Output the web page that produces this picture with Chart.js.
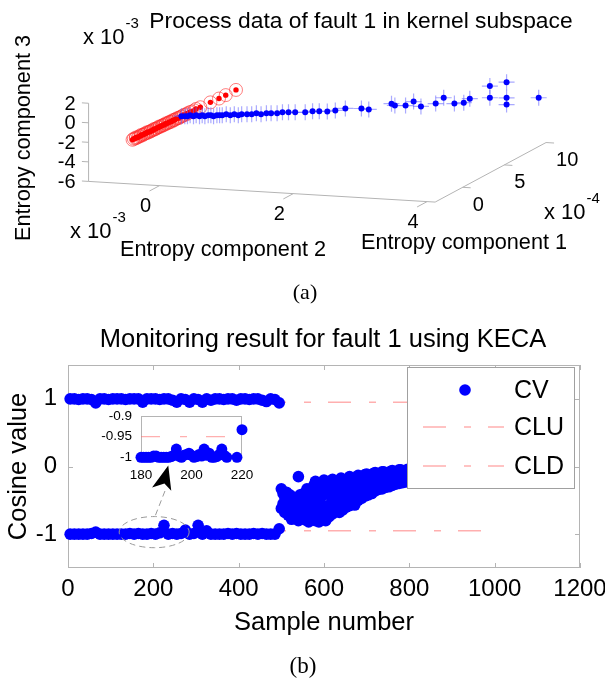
<!DOCTYPE html>
<html>
<head>
<meta charset="utf-8">
<script src="https://cdn.jsdelivr.net/npm/chart.js@4.4.1/dist/chart.umd.min.js"></script>
<style>
  html, body { margin: 0; padding: 0; background: #fff; }
  #wrap { position: relative; width: 605px; height: 684px; }
  #wrap canvas { position: absolute; left: 0; top: 0; }
</style>
</head>
<body>
<div id="wrap">
  <canvas id="kernelChart" width="605" height="684"></canvas>
  <canvas id="monitorChart" width="605" height="684"></canvas>
  <canvas id="insetChart" width="605" height="684"></canvas>
</div>
<script>
// ---- (a) process data in kernel subspace (entropy components, c1 x1e-4, c2/c3 x1e-3) ----
const normalC1 = [-3.0,-2.85,-2.7,-2.6,-2.45,-2.3,-2.2,-2.05,-1.9,-1.8,-1.65,-1.5,-1.4,-1.25,-1.1,-1.0,-0.85,-0.7,-0.6,-0.45,-0.3,-0.2,-0.05,0.1,0.2,0.35,0.5,0.6,0.75,0.9,1.0,1.15,1.3,1.4,1.55,1.7,1.85,2.0,2.15,2.3,2.5,2.7,2.9,3.1,3.35,3.6,3.9,4.33,5.37,6.32,7.05,8.2];
const normalC2 = [-0.44,-0.44,-0.43,-0.44,-0.43,-0.43,-0.42,-0.43,-0.42,-0.42,-0.42,-0.41,-0.42,-0.41,-0.41,-0.41,-0.40,-0.41,-0.40,-0.40,-0.40,-0.39,-0.40,-0.39,-0.39,-0.39,-0.38,-0.39,-0.38,-0.38,-0.38,-0.37,-0.38,-0.37,-0.37,-0.37,-0.36,-0.37,-0.36,-0.36,-0.36,-0.35,-0.36,-0.35,-0.35,-0.34,-0.35,-0.34,-0.32,-0.31,-0.30,-0.29];
const normalC3 = [-1.62,-1.58,-1.61,-1.57,-1.63,-1.59,-1.60,-1.56,-1.62,-1.60,-1.58,-1.61,-1.57,-1.60,-1.63,-1.59,-1.61,-1.58,-1.60,-1.62,-1.57,-1.60,-1.59,-1.61,-1.58,-1.62,-1.60,-1.57,-1.61,-1.59,-1.60,-1.63,-1.58,-1.60,-1.61,-1.57,-1.60,-1.62,-1.59,-1.60,-1.58,-1.61,-1.60,-1.57,-1.62,-1.60,-1.59,-1.61,-1.58,-1.62,-1.60,-1.59];

const faultC1 = [2.3,2.3,2.3,2.3,2.3,2.3,2.3,2.3,2.3,2.3,2.3,2.3,2.3,2.3,2.3,2.3,2.3,2.3,2.3,2.3,2.3,2.3,2.3,2.3,2.3,2.3,2.3,2.3,2.3,2.3,2.3,2.3,2.3,2.3,2.3,2.3,2.3,2.3,2.3,2.3,2.3,2.3,2.3,2.3,2.3,2.3,2.3,2.3,2.3,2.3,2.3,2.3,2.3,2.3];
const faultC2 = [-0.37,-0.32,-0.28,-0.24,-0.19,-0.15,-0.10,-0.06,-0.02,0.03,0.07,0.11,0.16,0.20,0.24,0.30,0.36,0.42,0.48,0.53,0.61,0.68,0.75,0.82,0.90,0.97,1.06,1.14,1.23,1.33,1.48,1.59,1.69,1.81,1.93,2.08,2.32,2.43,2.77,2.82,2.98,3.10,3.21,3.43,3.55,3.71,3.85,3.94,4.24,4.24,4.49,4.49,4.49,4.97];
const faultC3 = [-1.61,-1.59,-1.58,-1.46,-1.54,-1.42,-1.50,-1.39,-1.47,-1.35,-1.33,-1.42,-1.30,-1.28,-1.26,-1.14,-1.22,-1.09,-1.17,-1.04,-1.02,-0.99,-0.86,-0.93,-0.80,-0.77,-0.73,-0.60,-0.56,-0.52,-0.46,-0.31,-0.27,-0.23,-0.08,0.19,0.28,0.23,0.96,0.79,0.85,1.30,0.85,1.23,1.88,1.35,1.50,1.94,3.36,2.16,3.86,2.26,1.57,2.46];

const c1Ticks = [0, 5, 10];
const c2Ticks = [0, 2, 4];
const c3Ticks = [-6, -4, -2, 0, 2];
const c1Lim = [-3.3, 10];
const c2Lim = [-1.06, 4.12];
const c3Lim = [-6, 2];

// ---- (b) monitoring result ----
const normalStart = 5, normalStep = 10;
const upperCV = [1,1,0.99,1,1,0.99,0.94,1,1,0.99, 1,1,1,0.99,1,1,1,0.95,1,1, 1,0.99,1,1,0.98,0.95,1,0.99,0.95,1, 0.99,0.95,1,0.98,1,1,0.99,1,1,0.98, 1,1,0.99,1,1,0.98,0.96,1,0.99,0.94];
const lowerCV = [-1,-1,-1,-1,-1,-0.99,-0.97,-1,-1,-1, -1,-1,-1,-1,-0.99,-1,-0.99,-1,-1,-0.99, -1,-0.98,-0.87,-1,-0.99,-1,-0.99,-0.94,-1,-0.99, -0.87,-1,-0.95,-1,-1,-1,-1,-0.99,-1,-0.99, -1,-1,-1,-0.99,-1,-0.99,-1,-1,-1,-0.92];

const faultStart = 500, faultStep = 4;
const faultCVa = [-0.33,-0.40,-0.45,-0.38,-0.48, -0.42,-0.50,-0.45,-0.55,-0.47, -0.15,-0.42,-0.52,-0.40,-0.48, -0.33,-0.45,-0.38,-0.50,-0.28,
  -0.22,-0.40,-0.30,-0.46,-0.25, -0.20,-0.35,-0.28,-0.42,-0.22, -0.19,-0.33,-0.25,-0.38,-0.20, -0.17,-0.30,-0.22,-0.36,-0.18,
  -0.15,-0.27,-0.20,-0.32,-0.16, -0.13,-0.24,-0.17,-0.28,-0.12, -0.11,-0.21,-0.15,-0.25,-0.10, -0.09,-0.18,-0.12,-0.22,-0.08,
  -0.08,-0.16,-0.10,-0.19,-0.07, -0.06,-0.14,-0.09,-0.17,-0.05, -0.05,-0.12,-0.08,-0.15,-0.04, -0.04,-0.11,-0.07,-0.14,-0.05,
  -0.04,-0.10,-0.06,-0.13,-0.05, -0.03,-0.10,-0.06,-0.12,-0.04, -0.03,-0.09,-0.05,-0.12,-0.04, -0.03,-0.09,-0.05,-0.11,-0.04,
  -0.03,-0.08,-0.05,-0.11,-0.03, -0.02,-0.08,-0.05,-0.10,-0.03, -0.02,-0.08,-0.04,-0.10,-0.03];
const faultCVb = [-0.62,-0.55,-0.68,-0.60,-0.72, -0.65,-0.78,-0.62,-0.75,-0.70, -0.80,-0.66,-0.76,-0.60,-0.79, -0.70,-0.82,-0.62,-0.78,-0.68,
  -0.80,-0.60,-0.82,-0.66,-0.75, -0.58,-0.80,-0.65,-0.74,-0.55, -0.70,-0.52,-0.66,-0.58,-0.68, -0.50,-0.64,-0.55,-0.60,-0.47,
  -0.58,-0.45,-0.52,-0.57,-0.43, -0.50,-0.40,-0.47,-0.36,-0.44, -0.34,-0.42,-0.32,-0.40,-0.30, -0.36,-0.28,-0.34,-0.26,-0.33,
  -0.24,-0.31,-0.22,-0.30,-0.21, -0.28,-0.20,-0.26,-0.19,-0.25, -0.18,-0.24,-0.17,-0.23,-0.16, -0.22,-0.16,-0.21,-0.15,-0.20,
  -0.15,-0.20,-0.14,-0.19,-0.13, -0.18,-0.13,-0.17,-0.12,-0.18, -0.12,-0.17,-0.11,-0.16,-0.12, -0.16,-0.11,-0.15,-0.10,-0.15,
  -0.10,-0.14,-0.10,-0.14,-0.09, -0.14,-0.09,-0.13,-0.09,-0.13, -0.09,-0.13,-0.08,-0.12,-0.09];

const limitSamples = [0, 1000];
const cluValue = 0.95;
const cldValue = -0.95;
const yTicks = [-1, 0, 1];

// zoomed window, samples 180..220
const insetStart = 180, insetStep = 1;
const insetCV = [-1,-1,-1,-1,-1,-0.997,-0.997,-1,-1,-1, -1,-1,-0.998,-0.995,-0.98,-0.997,-1,-0.995,-0.993,-0.99,
  -0.995,-1,-0.998,-0.993,-0.997,-0.98,-0.995,-0.99,-1,-1, -0.998,-0.993,-0.98,-0.995,-1,-0.85,-0.87,-0.88,-1,-0.86, -0.933];
const insetXTicks = [180, 200, 220];
const insetYTicks = [-1, -0.95, -0.9];

// ---- styles ----
const SANS = "'Liberation Sans', Arial, Helvetica, sans-serif";
const SERIF = "'Liberation Serif', 'Times New Roman', serif";
const AXIS_GRAY = '#b4b4b4';
const LIMIT_COLOR = 'rgba(255,110,110,0.55)';
const LIMIT_DASH = [23, 18, 7, 17];

function series(start, step, values) {
  return values.map((v, i) => ({ x: start + i * step, y: v }));
}

// fixed oblique view of the 3-D box; result is in the chart's own x/y units
const VIEW = { ox: 183.4, oy: 105.9, e1: [8.6, -4.6], e2: [69, 4.1], e3: [0, -10.04] };
function project(c1, c2, c3) {
  return {
    x: VIEW.ox + c1 * VIEW.e1[0] + c2 * VIEW.e2[0] + c3 * VIEW.e3[0],
    y: VIEW.oy + c1 * VIEW.e1[1] + c2 * VIEW.e2[1] + c3 * VIEW.e3[1]
  };
}

function drawText(ctx, str, x, y, font, align, rot) {
  ctx.save();
  ctx.font = font;
  ctx.fillStyle = '#000';
  ctx.textAlign = align || 'center';
  ctx.textBaseline = 'middle';
  ctx.translate(x, y);
  if (rot) ctx.rotate(rot);
  ctx.fillText(str, 0, 0);
  ctx.restore();
}

function drawSci(ctx, x, y, exp, size) {
  drawText(ctx, 'x 10', x, y, size + 'px ' + SANS, 'left');
  ctx.save();
  ctx.font = size + 'px ' + SANS;
  const w = ctx.measureText('x 10').width;
  ctx.restore();
  drawText(ctx, exp, x + w + 1, y - 14, Math.round(size * 0.68) + 'px ' + SANS, 'left');
}

// ---------- chart (a) ----------
const normalView = normalC1.map((v, i) => project(v, normalC2[i], normalC3[i]));
const faultView = faultC1.map((v, i) => project(v, faultC2[i], faultC3[i]));

const kernelAxes = {
  id: 'kernelAxes',
  beforeDatasetsDraw(chart) {
    const { ctx, scales: { x, y } } = chart;
    const px = (a, b, c) => { const p = project(a, b, c); return [x.getPixelForValue(p.x), y.getPixelForValue(p.y)]; };
    const line = (p, q) => { ctx.beginPath(); ctx.moveTo(p[0], p[1]); ctx.lineTo(q[0], q[1]); ctx.stroke(); };
    ctx.save();
    ctx.strokeStyle = AXIS_GRAY;
    ctx.lineWidth = 1;
    line(px(c1Lim[0], c2Lim[0], c3Lim[0]), px(c1Lim[0], c2Lim[1], c3Lim[0]));
    line(px(c1Lim[0], c2Lim[1], c3Lim[0]), px(c1Lim[1], c2Lim[1], c3Lim[0]));
    line(px(c1Lim[0], c2Lim[0], c3Lim[0]), px(c1Lim[0], c2Lim[0], c3Lim[1]));
    c2Ticks.forEach(t => line(px(c1Lim[0], t, c3Lim[0]), px(c1Lim[0] - 1.2, t, c3Lim[0])));
    c1Ticks.forEach(t => line(px(t, c2Lim[1], c3Lim[0]), px(t, c2Lim[1] + 0.12, c3Lim[0])));
    c3Ticks.forEach(t => line(px(c1Lim[0], c2Lim[0], t), px(c1Lim[0], c2Lim[0] - 0.1, t)));
    ctx.restore();

    const tf = '20px ' + SANS;
    c2Ticks.forEach(t => { const p = px(c1Lim[0], t, c3Lim[0]); drawText(ctx, String(t), p[0] - 14, p[1] + 21, tf); });
    c1Ticks.forEach(t => { const p = px(t, c2Lim[1], c3Lim[0]); drawText(ctx, String(t), p[0] + 10, p[1] + 18, tf, 'left'); });
    c3Ticks.forEach(t => { const p = px(c1Lim[0], c2Lim[0], t); drawText(ctx, String(t), p[0] - 13, p[1] + 1, tf, 'right'); });
  },
  afterDraw(chart) {
    const ctx = chart.ctx;
    const lf = '21.7px ' + SANS;
    drawText(ctx, 'Process data of fault 1 in kernel subspace', 361, 22, '22.8px ' + SANS);
    drawSci(ctx, 83, 38, '-3', 22);
    drawText(ctx, 'Entropy component 3', 24, 138, lf, 'center', -Math.PI / 2);
    drawSci(ctx, 70, 232, '-3', 22);
    drawText(ctx, 'Entropy component 2', 223, 250, lf);
    drawSci(ctx, 544, 213, '-4', 22);
    drawText(ctx, 'Entropy component 1', 464, 243, lf);
    drawText(ctx, '(a)', 305, 293, '22px ' + SERIF);
  }
};

new Chart(document.getElementById('kernelChart'), {
  type: 'scatter',
  data: {
    datasets: [
      { label: 'fault dots', data: faultView, pointRadius: 3, backgroundColor: '#0000ff', borderWidth: 0, clip: false },
      { label: 'fault', data: faultView, pointStyle: 'cross', pointRadius: 8, borderColor: 'rgba(100,100,255,0.55)', borderWidth: 1.2, clip: false },
      { label: 'normal dots', data: normalView, pointRadius: 2.7, backgroundColor: '#ff0000', borderWidth: 0, clip: false },
      { label: 'normal', data: normalView, pointRadius: 6.5, backgroundColor: 'rgba(0,0,0,0)', borderColor: 'rgba(255,40,40,0.6)', borderWidth: 1, clip: false }
    ]
  },
  options: {
    responsive: false,
    animation: false,
    events: [],
    layout: { padding: 0 },
    plugins: { legend: { display: false }, tooltip: { enabled: false } },
    scales: {
      x: { type: 'linear', display: false, min: 0, max: 605 },
      y: { type: 'linear', display: false, min: 0, max: 684, reverse: true }
    }
  },
  plugins: [kernelAxes]
});

// ---------- chart (b) ----------
const cvPoints = [].concat(
  series(normalStart, normalStep, upperCV),
  series(normalStart, normalStep, lowerCV),
  series(faultStart, faultStep, faultCVa),
  series(faultStart, faultStep, faultCVb)
);
const cluLine = limitSamples.map(s => ({ x: s, y: cluValue }));
const cldLine = limitSamples.map(s => ({ x: s, y: cldValue }));

const monitorDecor = {
  id: 'monitorDecor',
  beforeDatasetsDraw(chart) {
    const { ctx, chartArea: a, scales: { x, y } } = chart;
    ctx.save();
    ctx.strokeStyle = AXIS_GRAY;
    ctx.lineWidth = 1;
    ctx.strokeRect(a.left + 0.5, a.top + 0.5, a.right - a.left - 1, a.bottom - a.top - 1);
    ctx.beginPath();
    x.ticks.forEach(t => {
      const p = Math.round(x.getPixelForValue(t.value)) + 0.5;
      ctx.moveTo(p, a.bottom); ctx.lineTo(p, a.bottom - 5);
      ctx.moveTo(p, a.top); ctx.lineTo(p, a.top + 5);
    });
    y.ticks.forEach(t => {
      const p = Math.round(y.getPixelForValue(t.value)) + 0.5;
      ctx.moveTo(a.left, p); ctx.lineTo(a.left + 5, p);
      ctx.moveTo(a.right, p); ctx.lineTo(a.right - 5, p);
    });
    ctx.stroke();
    ctx.restore();
  },
  afterDatasetsDraw(chart) {
    const { ctx, chartArea: a, scales: { x, y } } = chart;
    const X = v => x.getPixelForValue(v), Y = v => y.getPixelForValue(v);
    ctx.save();
    // ellipse around the zoomed samples
    ctx.strokeStyle = '#9a9a9a';
    ctx.lineWidth = 1;
    ctx.setLineDash([6, 4]);
    ctx.beginPath();
    ctx.ellipse(X(202), Y(-0.97), X(284) - X(202), Y(-1.2) - Y(-0.97), 0, 0, Math.PI * 2);
    ctx.stroke();
    ctx.beginPath();
    ctx.moveTo(X(205), Y(-0.72));
    ctx.lineTo(X(228), Y(-0.35));
    ctx.stroke();
    ctx.setLineDash([]);
    ctx.fillStyle = '#000';
    ctx.beginPath();
    ctx.moveTo(X(235), Y(0.015));
    ctx.lineTo(X(197), Y(-0.31));
    ctx.lineTo(X(226), Y(-0.25));
    ctx.lineTo(X(242), Y(-0.36));
    ctx.closePath();
    ctx.fill();

    // legend
    const L = a.right - 173, T = a.top + 2, R = a.right - 5, B = a.top + 124;
    ctx.fillStyle = '#fff';
    ctx.fillRect(L, T, R - L, B - T);
    ctx.strokeStyle = '#a0a0a0';
    ctx.strokeRect(L + 0.5, T + 0.5, R - L - 1, B - T - 1);
    const ds = chart.data.datasets;
    const rows = [T + 23, T + 60, T + 99];
    ctx.fillStyle = ds[0].backgroundColor;
    ctx.beginPath();
    ctx.arc(L + 58, rows[0], ds[0].pointRadius, 0, Math.PI * 2);
    ctx.fill();
    [1, 2].forEach(i => {
      ctx.strokeStyle = ds[i].borderColor;
      ctx.lineWidth = ds[i].borderWidth;
      ctx.setLineDash(ds[i].borderDash);
      ctx.beginPath();
      ctx.moveTo(L + 16, rows[i]);
      ctx.lineTo(L + 97, rows[i]);
      ctx.stroke();
    });
    ctx.setLineDash([]);
    ctx.restore();
    ds.forEach((d, i) => drawText(ctx, d.label, L + 107, rows[i] + 1, '25px ' + SANS, 'left'));
  },
  afterDraw(chart) {
    drawText(chart.ctx, 'Monitoring result for fault 1 using KECA', 323, 340, '25.5px ' + SANS);
    drawText(chart.ctx, '(b)', 303, 667, '23px ' + SERIF);
  }
};

new Chart(document.getElementById('monitorChart'), {
  type: 'scatter',
  data: {
    datasets: [
      { label: 'CV', data: cvPoints, pointRadius: 5.8, backgroundColor: '#0000ff', borderWidth: 0, clip: false },
      { label: 'CLU', data: cluLine, showLine: true, pointRadius: 0, borderColor: LIMIT_COLOR, borderWidth: 1.4, borderDash: LIMIT_DASH, fill: false },
      { label: 'CLD', data: cldLine, showLine: true, pointRadius: 0, borderColor: LIMIT_COLOR, borderWidth: 1.4, borderDash: LIMIT_DASH, fill: false }
    ]
  },
  options: {
    responsive: false,
    animation: false,
    events: [],
    layout: { padding: { left: 0, top: 365, right: 25, bottom: 0 } },
    plugins: { legend: { display: false }, tooltip: { enabled: false } },
    scales: {
      x: {
        type: 'linear', min: 0, max: 1200,
        ticks: { stepSize: 200, autoSkip: false, maxRotation: 0, padding: 7, color: '#000',
          font: { family: SANS, size: 24 }, callback: v => String(v) },
        grid: { display: false, drawTicks: false },
        border: { display: false },
        title: { display: true, text: 'Sample number', color: '#000',
          font: { family: SANS, size: 25.5 }, padding: { top: 0, bottom: 46 } },
        afterFit(s) { s.height = 116; s.paddingLeft = 0; s.paddingRight = 0; }
      },
      y: {
        type: 'linear', min: -1.5, max: 1.5,
        afterBuildTicks(s) { s.ticks = yTicks.map(v => ({ value: v })); },
        ticks: { padding: 11, color: '#000', font: { family: SANS, size: 24 }, callback: v => String(v) },
        grid: { display: false, drawTicks: false },
        border: { display: false },
        title: { display: true, text: 'Cosine value', color: '#000',
          font: { family: SANS, size: 25.5 }, padding: { top: 4, bottom: 0 } },
        afterFit(s) { s.width = 68; s.paddingTop = 0; s.paddingBottom = 0; }
      }
    }
  },
  plugins: [monitorDecor]
});

// ---------- inset ----------
const insetBox = {
  id: 'insetBox',
  beforeDatasetsDraw(chart) {
    const { ctx, chartArea: a } = chart;
    ctx.save();
    ctx.strokeStyle = AXIS_GRAY;
    ctx.lineWidth = 1;
    ctx.strokeRect(a.left + 0.5, a.top + 0.5, a.right - a.left - 1, a.bottom - a.top - 1);
    ctx.restore();
  }
};

new Chart(document.getElementById('insetChart'), {
  type: 'scatter',
  data: {
    datasets: [
      { label: 'CV', data: series(insetStart, insetStep, insetCV), pointRadius: 5.5, backgroundColor: '#0000ff', borderWidth: 0,
        clip: { left: 10, top: 0, right: 10, bottom: 10 } },
      { label: 'CLD', data: [{ x: insetXTicks[0], y: cldValue }, { x: insetXTicks[2], y: cldValue }], showLine: true, pointRadius: 0,
        borderColor: LIMIT_COLOR, borderWidth: 1.4, borderDash: [19, 20, 7, 19], fill: false }
    ]
  },
  options: {
    responsive: false,
    animation: false,
    events: [],
    layout: { padding: { left: 101, top: 416, right: 363, bottom: 195 } },
    plugins: { legend: { display: false }, tooltip: { enabled: false } },
    scales: {
      x: {
        type: 'linear', min: 180, max: 220,
        afterBuildTicks(s) { s.ticks = insetXTicks.map(v => ({ value: v })); },
        ticks: { autoSkip: false, maxRotation: 0, padding: 8, color: '#000', font: { family: SANS, size: 13.5 }, callback: v => String(v) },
        grid: { display: false, drawTicks: false },
        border: { display: false },
        afterFit(s) { s.height = 30; s.paddingLeft = 0; s.paddingRight = 0; }
      },
      y: {
        type: 'linear', min: -1.004, max: -0.9,
        afterBuildTicks(s) { s.ticks = insetYTicks.map(v => ({ value: v })); },
        ticks: { padding: 9, color: '#000', font: { family: SANS, size: 13.5 }, callback: v => String(v) },
        grid: { display: false, drawTicks: false },
        border: { display: false },
        afterFit(s) { s.width = 40; s.paddingTop = 0; s.paddingBottom = 0; }
      }
    }
  },
  plugins: [insetBox]
});
</script>
</body>
</html>
